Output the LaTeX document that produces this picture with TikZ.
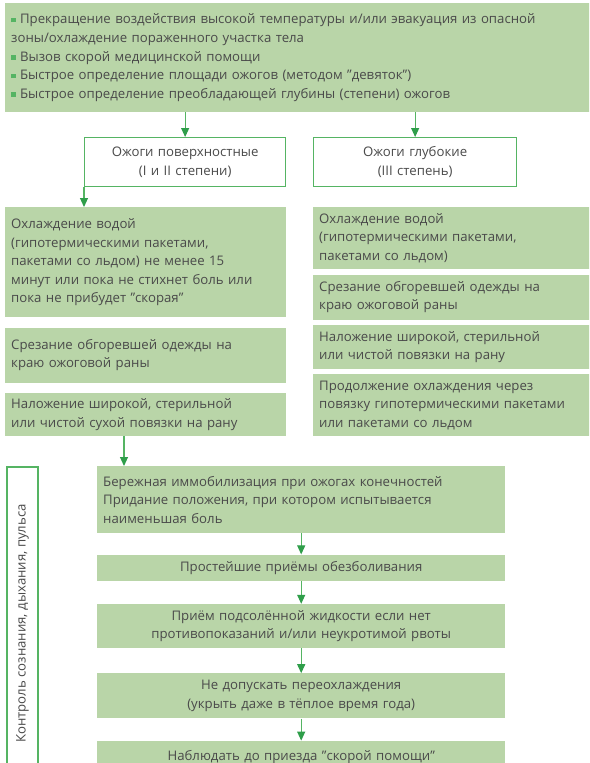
\documentclass[tikz,border=0pt]{standalone}
\usepackage{fontspec}
\setmainfont{Open Sans}
\usetikzlibrary{positioning}
\usetikzlibrary{arrows.meta}
\definecolor{gfill}{HTML}{B9D5A8}
\definecolor{gline}{HTML}{55B463}
\definecolor{gdark}{HTML}{2F9E4A}
\definecolor{tgrey}{HTML}{4A4A4A}
\tikzset{>={Triangle[length=9pt,width=8pt,color=gdark]}}
\tikzset{gbox/.style={fill=gfill, inner xsep=6pt, inner ysep=3pt, align=left, text=tgrey, font=\fontsize{13.2}{18.6}\selectfont}}
\tikzset{wbox/.style={draw=gline, line width=1.3pt, fill=white, inner sep=3pt, align=center, text=tgrey, font=\fontsize{13.2}{18.6}\selectfont}}
\tikzset{flow/.style={draw=gline, line width=1.1pt}}
\newcommand{\gbul}{\textcolor{gline}{\raisebox{1.5pt}{\rule{4.5pt}{4.5pt}}}\ }

\begin{document}
\begin{tikzpicture}[x=1pt, y=1pt]
        \useasboundingbox (0,0) rectangle (589,-763);
        \fill[white] (0,0) rectangle (589,-763);
        \clip (0,0) rectangle (589,-763);

        \node[gbox, anchor=north west, text width=574, minimum height=109] (top) at (5,-3) {\gbul Прекращение воздействия высокой температуры и/или эвакуация из опасной\\ зоны/охлаждение пораженного участка тела\\ \gbul Вызов скорой медицинской помощи\\ \gbul Быстрое определение площади ожогов (методом "девяток")\\ \gbul Быстрое определение преобладающей глубины (степени) ожогов};

        \node[wbox, anchor=north west, text width=195, minimum height=49] (surf) at (84,-137) {Ожоги поверхностные\\ (I и II степени)};
        \node[wbox, anchor=north west, text width=197, minimum height=49] (deep) at (313,-137) {Ожоги глубокие\\ (III степень)};

        \node[gbox, anchor=north west, text width=269, minimum height=110] (l1) at (5,-207) {Охлаждение водой\\ (гипотермическими пакетами,\\ пакетами со льдом) не менее 15\\ минут или пока не стихнет боль или\\ пока не прибудет "скорая"};
        \node[gbox, text width=269, minimum height=55, below=10 of l1] (l2) {Срезание обгоревшей одежды на\\ краю ожоговой раны};
        \node[gbox, text width=269, minimum height=43, below=10 of l2] (l3) {Наложение широкой, стерильной\\ или чистой сухой повязки на рану};

        \node[gbox, anchor=north west, text width=274, minimum height=62] (r1) at (313,-207) {Охлаждение водой\\ (гипотермическими пакетами,\\ пакетами со льдом)};
        \node[gbox, text width=274, minimum height=45, below=5 of r1] (r2) {Срезание обгоревшей одежды на\\ краю ожоговой раны};
        \node[gbox, text width=274, minimum height=44, below=5 of r2] (r3) {Наложение широкой, стерильной\\ или чистой повязки на рану};
        \node[gbox, text width=274, minimum height=62, below=5 of r3] (r4) {Продолжение охлаждения через\\ повязку гипотермическими пакетами\\ или пакетами со льдом};

        \node[gbox, anchor=north west, text width=396, minimum height=67] (c1) at (97,-466) {Бережная иммобилизация при ожогах конечностей\\ Придание положения, при котором испытывается\\ наименьшая боль};
        \node[gbox, align=center, text width=396, minimum height=26, below=21 of c1] (c2) {Простейшие приёмы обезболивания};
        \node[gbox, align=center, text width=396, minimum height=44, below=23 of c2] (c3) {Приём подсолённой жидкости если нет\\ противопоказаний и/или неукротимой рвоты};
        \node[gbox, align=center, text width=396, minimum height=45, below=25 of c3] (c4) {Не допускать переохлаждения\\ (укрыть даже в тёплое время года)};
        \node[gbox, align=center, text width=396, minimum height=32, below=22 of c4] (c5) {Наблюдать до приезда "скорой помощи"};

        \node[wbox, fill=none, rotate=90, minimum width=313, minimum height=31] (ctrl) at (22.5,-623.5) {Контроль сознания, дыхания, пульса};

        \draw[flow, ->] (surf.north |- top.south) -- (surf.north);
        \draw[flow, ->] (deep.north |- top.south) -- (deep.north);
        \draw[flow, ->] (surf.south west) -- (surf.south west |- l1.north);
        \draw[flow, ->] ([xshift=27]c1.north west |- l3.south) -- ([xshift=27]c1.north west);

        \draw[flow, ->] (c1) -- (c2);
        \draw[flow, ->] (c2) -- (c3);
        \draw[flow, ->] (c3) -- (c4);
        \draw[flow, ->] (c4) -- (c5);
    \end{tikzpicture}
\end{document}
